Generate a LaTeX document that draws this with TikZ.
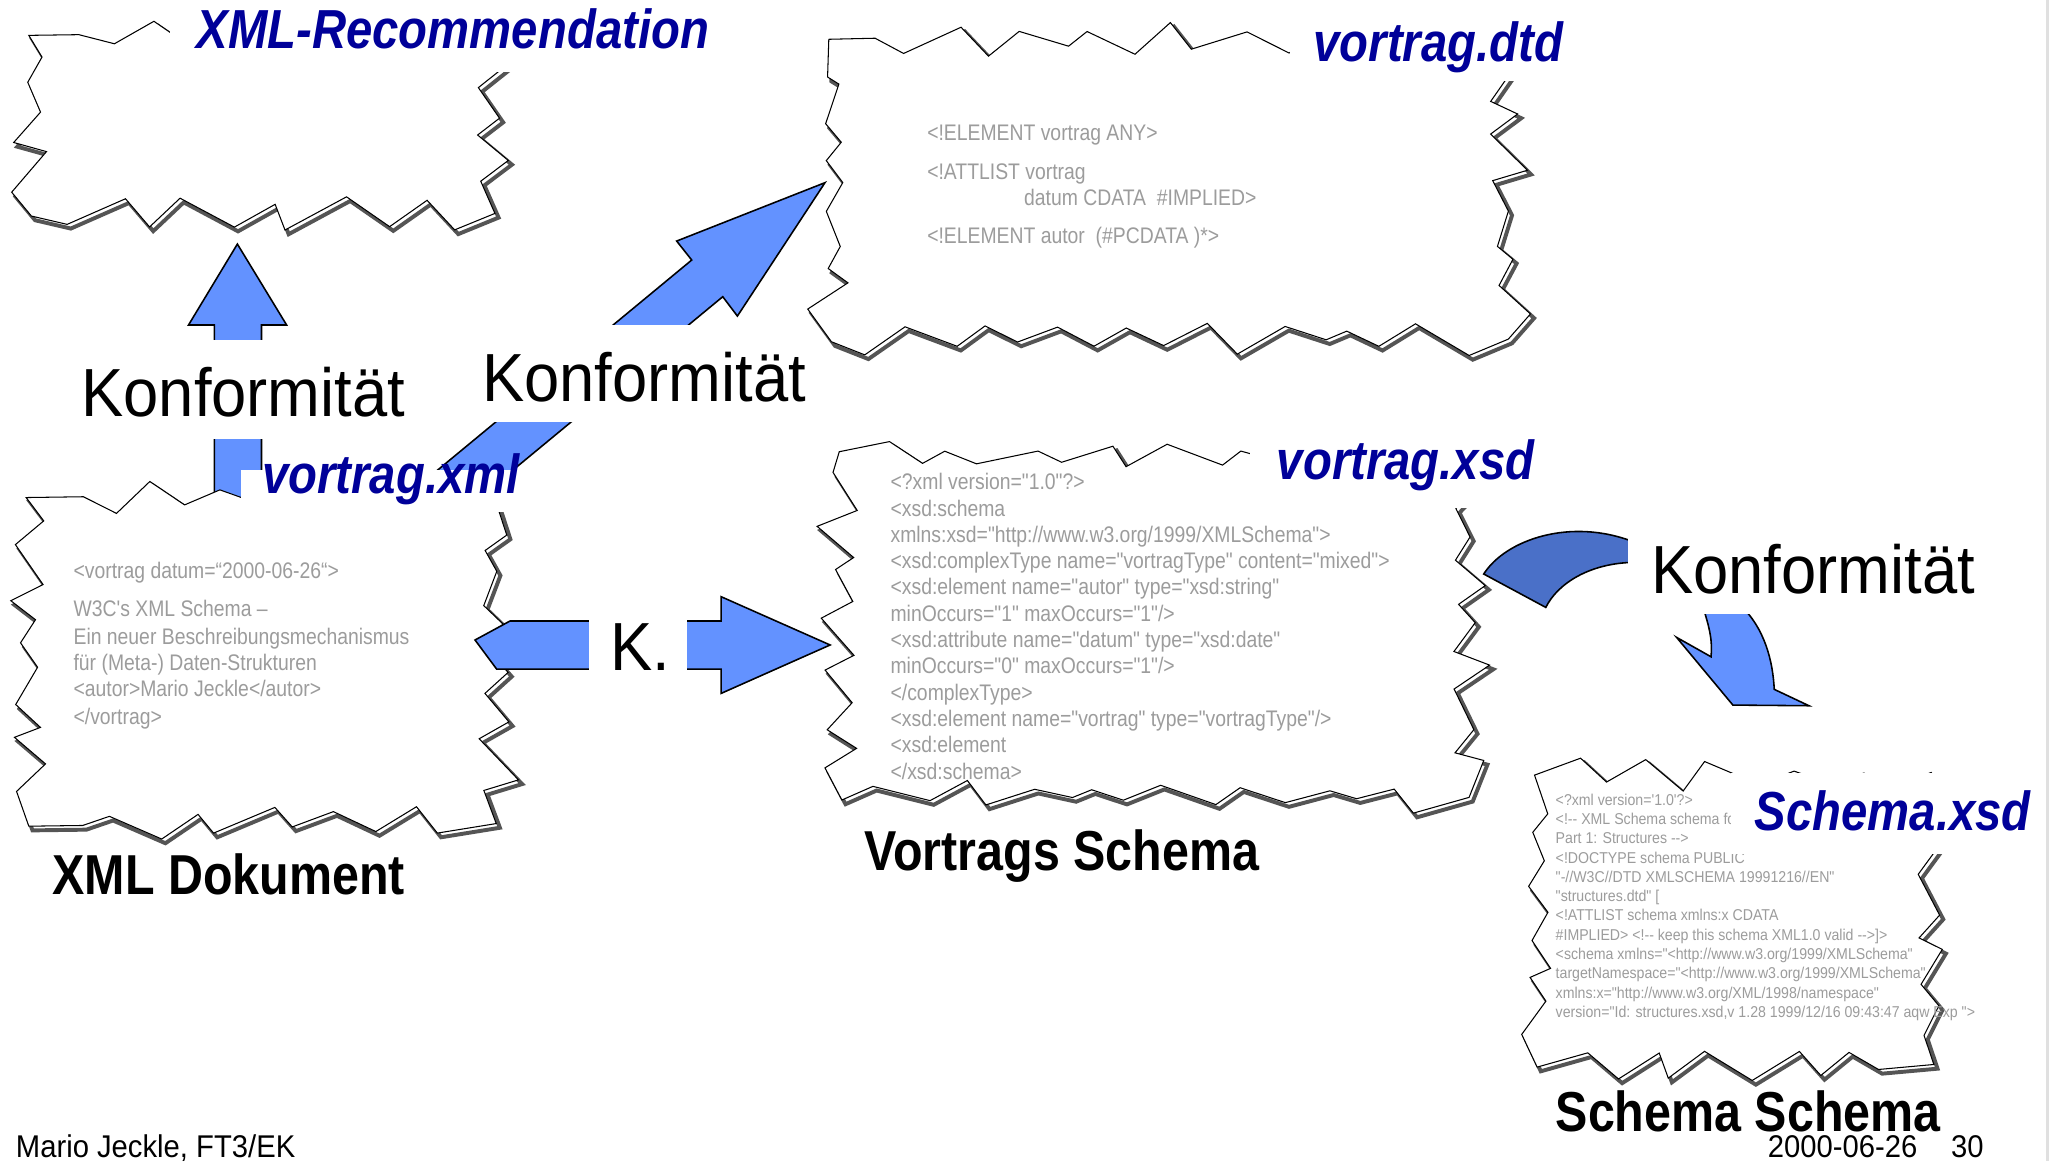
\documentclass[tikz,border=0pt]{standalone}
\usepackage{fontspec}
\setmainfont{Liberation Sans}
\newfontfamily\konffont{Liberation Sans}[FakeStretch=0.93]
\newfontfamily\headfont{Liberation Sans}[FakeStretch=0.86]
\newfontfamily\codefont{Liberation Sans}[FakeStretch=0.86]
\newfontfamily\smallcodefont{Liberation Sans}[FakeStretch=0.9]

\definecolor{arrowblue}{HTML}{6392FF}
\definecolor{bandblue}{HTML}{4A70C8}
\definecolor{titleblue}{HTML}{000099}
\definecolor{codegray}{HTML}{9C9C9C}
\definecolor{shadowgray}{HTML}{555555}

\tikzset{
  jagframe/.style={draw=black, line width=0.8pt, fill=white, line join=miter, miter limit=20},
  jagshadow/.style={draw=shadowgray, line width=3pt, shift={(2.8,3.2)}, line join=miter, miter limit=20},
  blockarrow/.style={fill=arrowblue, draw=black, line width=1.2pt, line join=miter},
  cover/.style={fill=white},
  title/.style={inner sep=0pt, anchor=base west, text=titleblue,
    font=\headfont\bfseries\itshape\fontsize{42}{48}\selectfont},
  caption/.style={inner sep=0pt, anchor=base west,
    font=\headfont\bfseries\fontsize{43}{48}\selectfont},
  konf/.style={inner sep=0pt, anchor=base west, font=\konffont\fontsize{52}{60}\selectfont},
  code/.style={inner sep=0pt, anchor=base west, text=codegray,
    font=\codefont\fontsize{17.2}{20}\selectfont},
  smallcode/.style={inner sep=0pt, anchor=base west, text=codegray,
    font=\smallcodefont\fontsize{12}{14}\selectfont},
  foot/.style={inner sep=0pt, anchor=base west, font=\konffont\fontsize{24}{28}\selectfont},
}

% outward spike (odd steps) / inward notch (even steps): step, spike base, spike range
\newcommand\spikeoff[3]{(mod(#1,2)*(#2+#3*rnd) - (1-mod(#1,2))*(2+8*rnd))}

% jagged document frame with a dark drop shadow: seed, x1, y1, x2, y2
\newcommand\jagbox[5]{%
  \pgfmathtruncatemacro\jagnh{max(2,round((#4-#2)/28))-1}%
  \pgfmathtruncatemacro\jagnv{max(2,round((#5-#3)/19))-1}%
  \pgfmathsetmacro\jagdh{(#4-#2)/(\jagnh+1)}%
  \pgfmathsetmacro\jagdv{(#5-#3)/(\jagnv+1)}%
  \foreach \layer in {shadow,frame} {
    \pgfmathsetseed{#1}
    \draw[jag\layer] (#2-5,#3-3)
      \foreach \k in {1,...,\jagnh} { -- ({#2+(\k+0.8*(rnd-0.5))*\jagdh}, {#3-\spikeoff{\k}{3}{13}}) }
      -- (#4+3,#3-5)
      \foreach \k in {1,...,\jagnv} { -- ({#4+\spikeoff{\k}{5}{17}}, {#3+(\k+0.8*(rnd-0.5))*\jagdv}) }
      -- (#4+5,#5+3)
      \foreach \k in {1,...,\jagnh} { -- ({#4-(\k+0.8*(rnd-0.5))*\jagdh}, {#5+\spikeoff{\k}{3}{13}}) }
      -- (#2-3,#5+5)
      \foreach \k in {1,...,\jagnv} { -- ({#2-\spikeoff{\k}{5}{17}}, {#5-(\k+0.8*(rnd-0.5))*\jagdv}) }
      -- cycle;
  }
}

\begin{document}
\begin{tikzpicture}[x=1pt, y=-1pt]
\useasboundingbox (0,0) rectangle (1568,887);
\fill[white] (0,0) rectangle (1568,887);
\draw[black!12, line width=2pt] (1564,0) -- (1564,887);

% upward arrow from the XML document to the recommendation
\draw[blockarrow] (181.3,186.4) -- (218.9,248.2) -- (199.7,248.2) -- (199.7,392)
  -- (163.7,392) -- (163.7,248.2) -- (144,248.2) -- cycle;

% document frames
\jagbox{11}{27}{30}{373}{160}
\jagbox{23}{638}{33}{1147}{256}
\jagbox{37}{25}{383}{374}{626}
\jagbox{41}{646}{348}{1117}{606}
\jagbox{53}{1177}{595}{1472}{810}

% diagonal arrow to vortrag.dtd
\draw[blockarrow] (630.1,139.5) -- (563.2,241.4) -- (552,226.6) -- (384.5,365)
  -- (327,365) -- (528.3,198.6) -- (516.8,184.1) -- cycle;

% horizontal arrow to vortrag.xsd
\draw[blockarrow] (362.8,488.8) -- (389.5,474.3) -- (550.7,474.3) -- (550.7,455.7)
  -- (634,492.6) -- (550.7,529.6) -- (550.7,511) -- (379.3,511) -- cycle;

% curved arrow from vortrag.xsd towards Schema.xsd
\draw[fill=bandblue, draw=black, line width=1.2pt]
  (1133.2,438.4) .. controls (1150,412) and (1200,395) .. (1248,414)
  -- (1248,429.5) .. controls (1215,430) and (1190,445) .. (1180.6,463.9) -- cycle;
\draw[blockarrow]
  (1300.1,462) .. controls (1306,480) and (1308,490) .. (1306.8,501.6)
  -- (1280.5,486.8) -- (1323.5,538.5) -- (1381.6,539) -- (1355.1,526.5)
  .. controls (1354,505) and (1348,480) .. (1329,462) -- cycle;

% contents of vortrag.dtd
\node[code] (dtd1) at (708,107) {<!ELEMENT vortrag ANY>};
\node[code] (dtd2) at (708,137) {<!ATTLIST vortrag};
\node[code] (dtd3) at (782,157) {datum CDATA\ \ \#IMPLIED>};
\node[code] (dtd4) at (708,186) {<!ELEMENT autor\ \ (\#PCDATA )*>};

% contents of vortrag.xml
\node[code] (xml1) at (56,442) {<vortrag datum=“2000-06-26“>};
\node[code] (xml2) at (56,471) {W3C's XML Schema –};
\node[code] (xml3) at (56,492) {Ein neuer Beschreibungsmechanismus};
\node[code] (xml4) at (56,512) {für (Meta-) Daten-Strukturen};
\node[code] (xml5) at (56,532) {<autor>Mario Jeckle</autor>};
\node[code] (xml6) at (56,553) {</vortrag>};

% contents of vortrag.xsd
\foreach \txt [count=\i from 0] in {
  {<?xml version="1.0"?>},
  {<xsd:schema},
  {xmlns:xsd="http://www.w3.org/1999/XMLSchema">},
  {<xsd:complexType name="vortragType" content="mixed">},
  {<xsd:element name="autor" type="xsd:string"},
  {minOccurs="1" maxOccurs="1"/>},
  {<xsd:attribute name="datum" type="xsd:date"},
  {minOccurs="0" maxOccurs="1"/>},
  {</complexType>},
  {<xsd:element name="vortrag" type="vortragType"/>},
  {<xsd:element},
  {</xsd:schema>}}
  \node[code] (xsd\i) at (680,{374+20.1*\i}) {\txt};

% contents of Schema.xsd
\foreach \txt [count=\i from 0] in {
  {<?xml version='1.0'?>},
  {<!-{}- XML Schema schema fo},
  {Part 1: Structures -{}->},
  {<!DOCTYPE schema PUBLIC},
  {"-//W3C//DTD XMLSCHEMA 19991216//EN"},
  {"structures.dtd" [},
  {<!ATTLIST schema xmlns:x CDATA},
  {\#IMPLIED> <!-{}- keep this schema XML1.0 valid -{}->]>},
  {<schema xmlns="<http://www.w3.org/1999/XMLSchema"},
  {targetNamespace="<http://www.w3.org/1999/XMLSchema"},
  {xmlns:x="http://www.w3.org/XML/1998/namespace"},
  {version="Id: structures.xsd,v 1.28 1999/12/16 09:43:47 aqw Exp ">}}
  \node[smallcode] (sch\i) at (1188,{615+14.73*\i}) {\txt};

% white label backgrounds
\fill[cover] (130,0) rectangle (548,55);
\fill[cover] (985,0) rectangle (1205,62);
\fill[cover] (955,322) rectangle (1180,388);
\fill[cover] (1322,590) rectangle (1556,652);
\fill[cover] (184,359) rectangle (408,391);
\fill[cover] (55,260) rectangle (320,335);
\fill[cover] (360,248) rectangle (620,322.5);
\fill[cover] (1243.4,395) rectangle (1520,469);
\fill[cover] (450,462) rectangle (525,520);

% file names
\node[title] (recname) at (150,37) {XML-Recommendation};
\node[title] (dtdname) at (1003,47) {vortrag.dtd};
\node[title] (xsdname) at (975,366) {vortrag.xsd};
\node[title] (schemaname) at (1340,634) {Schema.xsd};
\node[title] (xmlname) at (200,377) {vortrag.xml};

% captions
\node[caption] (doccap) at (40,683) {XML Dokument};
\node[caption] (xsdcap) at (660,665) {Vortrags Schema};
\node[caption] (schemacap) at (1188,864) {Schema Schema};

% arrow labels
\node[konf] (konfA) at (62,318) {Konformität};
\node[konf] (konfB) at (368,307) {Konformität};
\node[konf] (konfC) at (1261,453) {Konformität};
\node[konf] (klabel) at (466,512) {K.};

% footer
\node[foot] (author) at (12,884) {Mario Jeckle, FT3/EK};
\node[foot] (date) at (1350,884) {2000-06-26};
\node[foot] (page) at (1490,884) {30};
\end{tikzpicture}
\end{document}
